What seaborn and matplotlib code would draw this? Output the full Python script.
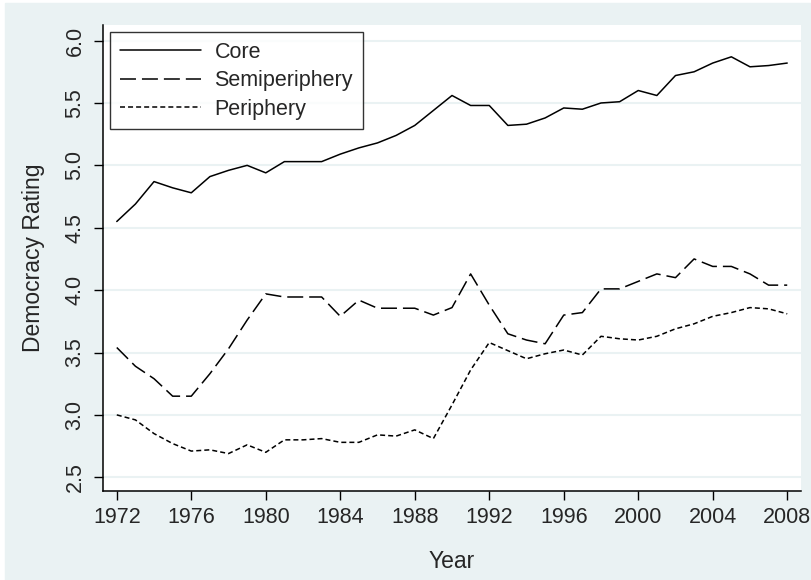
import pandas as pd
import matplotlib.pyplot as plt
import seaborn as sns
from matplotlib.patches import Rectangle

# data
years = list(range(1972, 2009))
core = [4.55, 4.69, 4.87, 4.82, 4.78, 4.91, 4.96, 5.00, 4.94, 5.03,
        5.03, 5.03, 5.09, 5.14, 5.18, 5.24, 5.32, 5.44, 5.56, 5.48,
        5.48, 5.32, 5.33, 5.38, 5.46, 5.45, 5.50, 5.51, 5.60, 5.56,
        5.72, 5.75, 5.82, 5.87, 5.79, 5.80, 5.82]
semiperiphery = [3.54, 3.39, 3.29, 3.15, 3.15, 3.33, 3.53, 3.76, 3.97, 3.945,
                 3.945, 3.945, 3.79, 3.92, 3.855, 3.855, 3.855, 3.80, 3.86, 4.13,
                 3.88, 3.65, 3.60, 3.57, 3.80, 3.82, 4.01, 4.01, 4.07, 4.13,
                 4.10, 4.25, 4.19, 4.19, 4.13, 4.04, 4.04]
periphery = [3.00, 2.96, 2.85, 2.77, 2.71, 2.72, 2.69, 2.76, 2.70, 2.80,
             2.80, 2.81, 2.78, 2.78, 2.84, 2.83, 2.88, 2.81, 3.08, 3.36,
             3.58, 3.515, 3.45, 3.49, 3.52, 3.48, 3.63, 3.61, 3.60, 3.63,
             3.69, 3.73, 3.79, 3.82, 3.86, 3.85, 3.81]
series_names = ['Core', 'Semiperiphery', 'Periphery']
x_ticks = list(range(1972, 2009, 4))
y_ticks = [2.5, 3.0, 3.5, 4.0, 4.5, 5.0, 5.5, 6.0]


def main():
    df = pd.concat([
        pd.DataFrame({'Year': years, 'Rating': vals, 'Group': name})
        for name, vals in zip(series_names, [core, semiperiphery, periphery])
    ])

    bg = '#EAF2F3'
    sns.set_style('white')
    plt.rcParams['font.family'] = ['Liberation Sans', 'DejaVu Sans']
    plt.rcParams['lines.scale_dashes'] = False

    fig = plt.figure(figsize=(8.11, 5.80), dpi=100, facecolor='white')
    fig.patches.append(Rectangle((5 / 811, 0), 1, 1 - 3 / 580,
                                 transform=fig.transFigure, color=bg, zorder=-1))
    ax = fig.add_axes([103 / 811, 89 / 580, 698 / 811, 466 / 580])
    ax.set_facecolor('white')

    sns.lineplot(data=df, x='Year', y='Rating', hue='Group', style='Group',
                 palette=['black'] * 3,
                 dashes=['', (11.5, 4.3), (3.6, 2.2)],
                 linewidth=1.1, ax=ax)

    ax.set_xlim(1971.26, 2008.74)
    ax.set_ylim(2.39, 6.125)
    ax.set_xticks(x_ticks)
    ax.set_yticks(y_ticks)
    ax.set_yticklabels([f'{v:.1f}' for v in y_ticks], rotation=90, va='center')
    ax.tick_params(axis='both', labelsize=15.5, length=6.5, width=1,
                   color='black', direction='out', left=True, bottom=True)
    ax.tick_params(axis='x', pad=5)
    ax.tick_params(axis='y', pad=6)
    ax.grid(axis='y', color=bg, linewidth=1.5)
    ax.grid(axis='x', visible=False)
    for side in ['top', 'right']:
        ax.spines[side].set_visible(False)
    for side in ['left', 'bottom']:
        ax.spines[side].set_color('black')
        ax.spines[side].set_linewidth(1.1)

    ax.set_xlabel('Year', fontsize=16.5, labelpad=16)
    ax.set_ylabel('Democracy Rating', fontsize=16.5, labelpad=14)

    leg = ax.legend(loc='upper left', bbox_to_anchor=(0.01, 0.985),
                    fontsize=15.5, frameon=True, fancybox=False,
                    edgecolor='black', handlelength=3.8, borderaxespad=0,
                    labelspacing=0.35, borderpad=0.45, handletextpad=0.6)
    leg.get_frame().set_linewidth(1.0)

    fig.savefig('out.png', dpi=100, facecolor=fig.get_facecolor())
    plt.close(fig)


if __name__ == '__main__':
    main()
